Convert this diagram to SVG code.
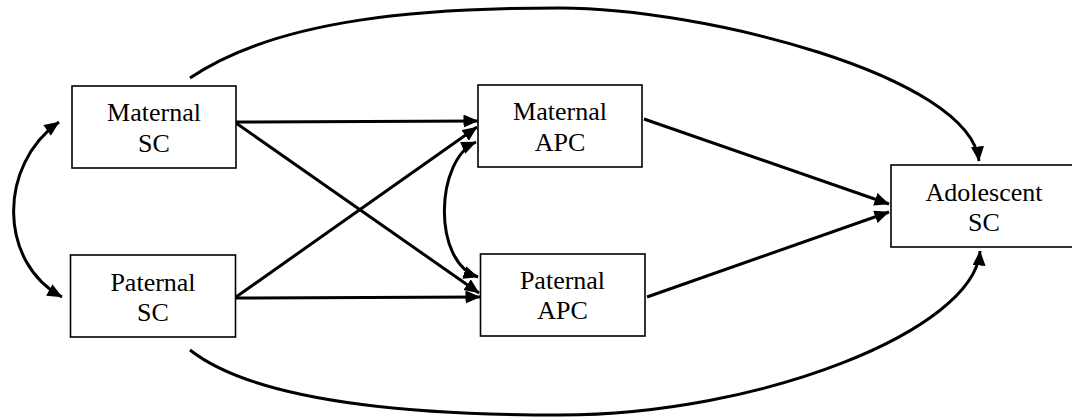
<svg xmlns="http://www.w3.org/2000/svg" width="1072" height="418" viewBox="0 0 1072 418">
<style>
.box{fill:#fff;stroke:#000;stroke-width:1.6}
.lbl{font-family:"Liberation Serif","Times New Roman",serif;font-size:26px;fill:#000;text-anchor:middle}
.c{fill:none;stroke:#000;stroke-width:3}
</style>
<defs>
<marker id="ah" markerUnits="userSpaceOnUse" markerWidth="16" markerHeight="14" refX="14.5" refY="6.5" orient="auto">
<path d="M0,0 L15,6.5 L0,13 z" fill="#000"/>
</marker>
<marker id="as" markerUnits="userSpaceOnUse" markerWidth="16" markerHeight="14" refX="0.5" refY="6.5" orient="auto">
<path d="M15,0 L0,6.5 L15,13 z" fill="#000"/>
</marker>
</defs>
<rect width="1072" height="418" fill="#fff"/>
<g id="connectors">
<path class="c" d="M190,78 C280,17 430,8 560,8 C700,8 970,75 979,161" marker-end="url(#ah)"/>
<path class="c" d="M190,350 C260,405 430,415 560,415 C760,415 975,330 980,251" marker-end="url(#ah)"/>
<path class="c" d="M59,122 C-2,165 -2,262 62,297" marker-start="url(#as)" marker-end="url(#ah)"/>
<path class="c" d="M476,142 C435,160 432,262 478,277" marker-start="url(#as)" marker-end="url(#ah)"/>
<path class="c" d="M236,122 L478,121" marker-end="url(#ah)"/>
<path class="c" d="M236,123 L479,293" marker-end="url(#ah)"/>
<path class="c" d="M236,297 L477,127" marker-end="url(#ah)"/>
<path class="c" d="M236,298 L480,297" marker-end="url(#ah)"/>
<path class="c" d="M644,119 L889,204" marker-end="url(#ah)"/>
<path class="c" d="M647,297 L889,212" marker-end="url(#ah)"/>
</g>
<g id="maternal-sc">
<rect class="box" x="72" y="86" width="164" height="82"/>
<text class="lbl" x="154" y="121">Maternal</text>
<text class="lbl" x="154" y="152">SC</text>
</g>
<g id="paternal-sc">
<rect class="box" x="70.5" y="255" width="165" height="82"/>
<text class="lbl" x="153" y="291">Paternal</text>
<text class="lbl" x="153" y="321">SC</text>
</g>
<g id="maternal-apc">
<rect class="box" x="478" y="85" width="164" height="82"/>
<text class="lbl" x="560" y="120">Maternal</text>
<text class="lbl" x="560" y="151">APC</text>
</g>
<g id="paternal-apc">
<rect class="box" x="480.5" y="254" width="164.5" height="82"/>
<text class="lbl" x="562.5" y="289">Paternal</text>
<text class="lbl" x="562.5" y="319">APC</text>
</g>
<g id="adolescent-sc">
<rect class="box" x="891" y="165" width="182" height="82"/>
<text class="lbl" x="984" y="201">Adolescent</text>
<text class="lbl" x="984" y="231">SC</text>
</g>
</svg>
